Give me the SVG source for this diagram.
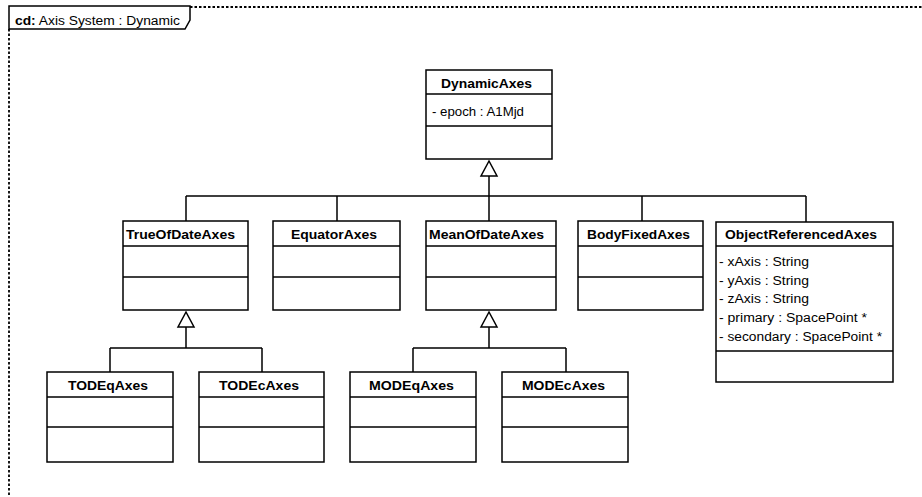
<svg xmlns="http://www.w3.org/2000/svg" width="922" height="497" viewBox="0 0 922 497">
<style>
.box{fill:#fff;stroke:#000;stroke-width:1.5}
.ln{stroke:#000;stroke-width:1.5;fill:none}
.nm{font-family:"Liberation Sans",Arial,sans-serif;font-size:12.5px;font-weight:bold;fill:#000}
.at{font-family:"Liberation Sans",Arial,sans-serif;font-size:12px;fill:#000}
.frame{stroke:#000;stroke-width:1.8;stroke-dasharray:2.5,2;fill:none}
.tri{fill:#fff;stroke:#000;stroke-width:1.5}
</style>
<rect width="922" height="497" fill="#fff"/>
<g id="frame">
<path class="frame" d="M190,7 H922"/>
<path class="frame" d="M9,29 V497"/>
<path class="ln" d="M9,29 V6 H190 V20 L185,29 Z" fill="#fff"/>
<text class="at" x="15" y="25" textLength="165" lengthAdjust="spacingAndGlyphs" font-size="12.5px"><tspan font-weight="bold">cd:</tspan> Axis System : Dynamic</text>
</g>
<g id="connectors">
<path class="ln" d="M489,176 V196 M186,196 H806 M186,196 V221 M337,196 V221 M489,196 V221 M642,196 V221 M806,196 V222"/>
<polygon class="tri" points="489,161 481,176 497,176"/>
<path class="ln" d="M186,327 V348 M110,348 H262 M110,348 V372 M262,348 V372"/>
<polygon class="tri" points="186,312 178,327 194,327"/>
<path class="ln" d="M489,327 V348 M413,348 H566 M413,348 V372 M566,348 V372"/>
<polygon class="tri" points="489,312 481,327 497,327"/>
</g>
<g id="DynamicAxes">
<rect class="box" x="426" y="70" width="126" height="89"/>
<path class="ln" d="M426,94 H552 M426,126 H552"/>
<text class="nm" x="441" y="88" textLength="91" lengthAdjust="spacingAndGlyphs">DynamicAxes</text>
<text class="at" x="432" y="116" textLength="92" lengthAdjust="spacingAndGlyphs">- epoch : A1Mjd</text>
</g>
<g id="TrueOfDateAxes">
<rect class="box" x="123" y="221" width="125" height="89"/>
<path class="ln" d="M123,246 H248 M123,277 H248"/>
<text class="nm" x="126" y="239" textLength="109" lengthAdjust="spacingAndGlyphs">TrueOfDateAxes</text>
</g>
<g id="EquatorAxes">
<rect class="box" x="273" y="221" width="127" height="89"/>
<path class="ln" d="M273,246 H400 M273,277 H400"/>
<text class="nm" x="291" y="239" textLength="86" lengthAdjust="spacingAndGlyphs">EquatorAxes</text>
</g>
<g id="MeanOfDateAxes">
<rect class="box" x="426" y="221" width="130" height="89"/>
<path class="ln" d="M426,246 H556 M426,277 H556"/>
<text class="nm" x="429" y="239" textLength="115" lengthAdjust="spacingAndGlyphs">MeanOfDateAxes</text>
</g>
<g id="BodyFixedAxes">
<rect class="box" x="578" y="221" width="125" height="89"/>
<path class="ln" d="M578,246 H703 M578,277 H703"/>
<text class="nm" x="587" y="239" textLength="103" lengthAdjust="spacingAndGlyphs">BodyFixedAxes</text>
</g>
<g id="ObjectReferencedAxes">
<rect class="box" x="716" y="222" width="177" height="160"/>
<path class="ln" d="M716,246 H893 M716,351 H893"/>
<text class="nm" x="725" y="239" textLength="152" lengthAdjust="spacingAndGlyphs">ObjectReferencedAxes</text>
<text class="at" x="719" y="266" textLength="90" lengthAdjust="spacingAndGlyphs">- xAxis : String</text>
<text class="at" x="719" y="285" textLength="90" lengthAdjust="spacingAndGlyphs">- yAxis : String</text>
<text class="at" x="719" y="303" textLength="90" lengthAdjust="spacingAndGlyphs">- zAxis : String</text>
<text class="at" x="719" y="322" textLength="148" lengthAdjust="spacingAndGlyphs">- primary  : SpacePoint *</text>
<text class="at" x="719" y="341" textLength="163" lengthAdjust="spacingAndGlyphs">- secondary  : SpacePoint *</text>
</g>
<g id="TODEqAxes">
<rect class="box" x="47" y="372" width="126" height="90"/>
<path class="ln" d="M47,397 H173 M47,427 H173"/>
<text class="nm" x="68" y="390" textLength="80" lengthAdjust="spacingAndGlyphs">TODEqAxes</text>
</g>
<g id="TODEcAxes">
<rect class="box" x="199" y="372" width="125" height="90"/>
<path class="ln" d="M199,397 H324 M199,427 H324"/>
<text class="nm" x="219" y="390" textLength="80" lengthAdjust="spacingAndGlyphs">TODEcAxes</text>
</g>
<g id="MODEqAxes">
<rect class="box" x="350" y="372" width="126" height="90"/>
<path class="ln" d="M350,397 H476 M350,427 H476"/>
<text class="nm" x="369" y="390" textLength="85" lengthAdjust="spacingAndGlyphs">MODEqAxes</text>
</g>
<g id="MODEcAxes">
<rect class="box" x="502" y="372" width="126" height="90"/>
<path class="ln" d="M502,397 H628 M502,427 H628"/>
<text class="nm" x="522" y="390" textLength="83" lengthAdjust="spacingAndGlyphs">MODEcAxes</text>
</g>
</svg>
